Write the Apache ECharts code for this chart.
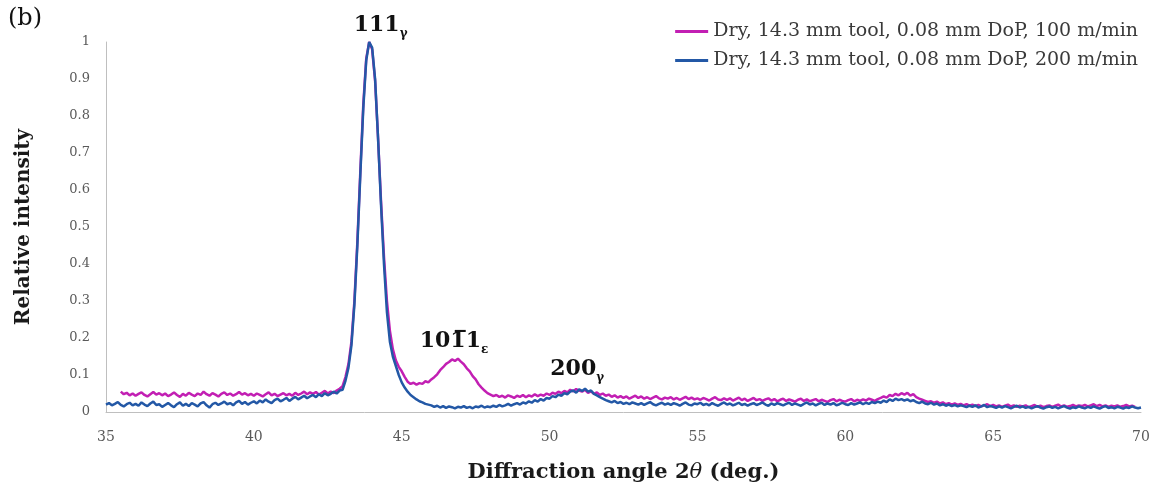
<!DOCTYPE html>
<html>
<head>
<meta charset="utf-8">
<style>
  html, body { margin: 0; padding: 0; background: #ffffff; }
  #chart { width: 1157px; height: 496px; }
</style>
<script src="https://cdn.jsdelivr.net/npm/echarts@6/dist/echarts.min.js"></script>
</head>
<body>
<div id="chart"></div>
<script>
// Scan grid: 2θ from 35° to 70° in 0.1° steps
const angleStart = 35.0;
const angleStep = 0.1;

// Tick labels
const xTicks = [35, 40, 45, 50, 55, 60, 65, 70];
const yTicks = [0, 0.1, 0.2, 0.3, 0.4, 0.5, 0.6, 0.7, 0.8, 0.9, 1];

const seriesNames = [
  'Dry, 14.3 mm tool, 0.08 mm DoP, 100 m/min',
  'Dry, 14.3 mm tool, 0.08 mm DoP, 200 m/min'
];

// Relative intensity, 100 m/min (one row per degree, 35.0 … 70.0)
const intensity100 = [
  null,null,null,null,null,0.055,0.048,0.052,0.045,0.050,
  0.044,0.049,0.053,0.046,0.042,0.048,0.054,0.047,0.051,0.045,
  0.050,0.043,0.047,0.053,0.046,0.041,0.049,0.044,0.052,0.047,
  0.043,0.050,0.046,0.055,0.048,0.044,0.051,0.047,0.042,0.049,
  0.053,0.046,0.050,0.044,0.048,0.054,0.047,0.051,0.045,0.049,
  0.044,0.050,0.046,0.042,0.048,0.053,0.045,0.049,0.043,0.047,
  0.051,0.045,0.049,0.044,0.052,0.046,0.050,0.055,0.048,0.053,
  0.049,0.054,0.047,0.052,0.057,0.050,0.055,0.051,0.058,0.063,
  0.070,0.095,0.130,0.190,0.300,0.460,0.650,0.830,0.955,1.000,
  0.980,0.895,0.740,0.570,0.420,0.300,0.220,0.170,0.140,0.122,
  0.110,0.095,0.082,0.076,0.079,0.074,0.078,0.076,0.083,0.080,
  0.088,0.094,0.102,0.113,0.121,0.130,0.135,0.142,0.138,0.144,
  0.136,0.129,0.118,0.110,0.097,0.088,0.075,0.066,0.058,0.051,
  0.047,0.043,0.046,0.041,0.044,0.039,0.045,0.042,0.038,0.044,
  0.041,0.046,0.040,0.045,0.042,0.048,0.043,0.047,0.044,0.050,
  0.046,0.052,0.049,0.055,0.051,0.057,0.053,0.060,0.056,0.062,
  0.058,0.055,0.060,0.052,0.056,0.049,0.053,0.046,0.050,0.044,
  0.047,0.041,0.045,0.039,0.043,0.038,0.042,0.036,0.040,0.044,
  0.038,0.042,0.036,0.040,0.035,0.039,0.043,0.037,0.034,0.039,
  0.036,0.040,0.034,0.038,0.033,0.037,0.041,0.035,0.039,0.034,
  0.037,0.033,0.038,0.035,0.031,0.036,0.040,0.034,0.032,0.037,
  0.033,0.037,0.031,0.035,0.039,0.032,0.036,0.030,0.034,0.038,
  0.032,0.035,0.030,0.034,0.037,0.031,0.035,0.029,0.033,0.036,
  0.030,0.034,0.031,0.028,0.033,0.036,0.030,0.034,0.029,0.032,
  0.035,0.029,0.033,0.030,0.027,0.032,0.035,0.029,0.033,0.030,
  0.028,0.032,0.035,0.029,0.033,0.030,0.034,0.031,0.036,0.033,
  0.030,0.035,0.038,0.042,0.039,0.046,0.043,0.049,0.045,0.051,
  0.047,0.052,0.044,0.048,0.040,0.036,0.033,0.030,0.027,0.029,
  0.025,0.028,0.023,0.026,0.021,0.024,0.020,0.023,0.019,0.022,
  0.018,0.021,0.017,0.020,0.016,0.019,0.015,0.018,0.021,0.016,
  0.019,0.015,0.018,0.014,0.017,0.020,0.015,0.018,0.014,0.017,
  0.015,0.018,0.013,0.016,0.019,0.014,0.017,0.013,0.016,0.018,
  0.014,0.017,0.020,0.015,0.018,0.014,0.016,0.019,0.015,0.018,
  0.016,0.019,0.015,0.018,0.021,0.016,0.019,0.015,0.018,0.014,
  0.017,0.015,0.018,0.014,0.016,0.019,0.015,0.017,0.014,null,
  null
];

// Relative intensity, 200 m/min (one row per degree, 35.0 … 70.0)
const intensity200 = [
  0.020,0.024,0.018,0.022,0.027,0.019,0.015,0.021,0.025,0.018,
  0.022,0.017,0.026,0.020,0.016,0.023,0.028,0.019,0.021,0.014,
  0.019,0.024,0.018,0.013,0.021,0.026,0.017,0.022,0.016,0.024,
  0.020,0.015,0.023,0.027,0.018,0.012,0.021,0.025,0.019,0.023,
  0.028,0.021,0.024,0.018,0.026,0.030,0.022,0.027,0.020,0.025,
  0.029,0.023,0.031,0.026,0.034,0.028,0.024,0.032,0.036,0.029,
  0.033,0.038,0.030,0.036,0.041,0.034,0.039,0.044,0.037,0.042,
  0.046,0.040,0.048,0.043,0.051,0.045,0.049,0.055,0.050,0.058,
  0.060,0.085,0.120,0.180,0.290,0.450,0.640,0.820,0.950,1.000,
  0.985,0.900,0.740,0.560,0.400,0.270,0.190,0.150,0.125,0.100,
  0.080,0.066,0.055,0.046,0.040,0.034,0.029,0.026,0.022,0.020,
  0.018,0.014,0.017,0.012,0.016,0.011,0.015,0.013,0.010,0.014,
  0.012,0.016,0.011,0.014,0.010,0.015,0.013,0.017,0.012,0.015,
  0.013,0.017,0.014,0.019,0.015,0.018,0.022,0.017,0.021,0.024,
  0.020,0.026,0.023,0.029,0.025,0.032,0.028,0.035,0.031,0.038,
  0.036,0.043,0.040,0.047,0.044,0.051,0.048,0.055,0.058,0.052,
  0.061,0.057,0.063,0.055,0.058,0.049,0.045,0.040,0.036,0.032,
  0.029,0.026,0.030,0.024,0.027,0.022,0.025,0.021,0.026,0.023,
  0.020,0.024,0.019,0.023,0.027,0.021,0.018,0.022,0.025,0.020,
  0.023,0.019,0.024,0.021,0.017,0.022,0.026,0.020,0.018,0.023,
  0.021,0.025,0.019,0.022,0.018,0.024,0.020,0.017,0.022,0.026,
  0.020,0.023,0.018,0.021,0.025,0.019,0.022,0.017,0.021,0.024,
  0.019,0.022,0.026,0.020,0.017,0.023,0.019,0.024,0.021,0.018,
  0.022,0.025,0.019,0.023,0.020,0.017,0.022,0.026,0.020,0.023,
  0.018,0.022,0.025,0.019,0.023,0.020,0.024,0.018,0.021,0.025,
  0.021,0.019,0.024,0.020,0.023,0.026,0.021,0.025,0.022,0.027,
  0.024,0.028,0.025,0.031,0.027,0.034,0.030,0.036,0.032,0.035,
  0.031,0.034,0.029,0.032,0.027,0.024,0.028,0.023,0.021,0.025,
  0.020,0.023,0.018,0.021,0.017,0.020,0.016,0.019,0.015,0.018,
  0.016,0.013,0.017,0.014,0.018,0.012,0.015,0.019,0.013,0.016,
  0.014,0.011,0.015,0.012,0.016,0.013,0.010,0.014,0.017,0.012,
  0.015,0.011,0.014,0.010,0.013,0.016,0.012,0.009,0.013,0.015,
  0.011,0.014,0.010,0.013,0.016,0.012,0.009,0.013,0.011,0.015,
  0.012,0.010,0.014,0.011,0.015,0.012,0.009,0.013,0.016,0.011,
  0.013,0.010,0.014,0.012,0.009,0.013,0.011,0.015,0.012,0.010,
  0.012
];

// Reflection labels: position of each peak and its indexed name
const peakAngles = [43.95, 46.7, 50.8];
const peakHeights = [1.0, 0.14, 0.065];
const peakIndex = ['111', '10\u0031\u03051', '200'];
const peakPhase = ['\u03b3', '\u03b5', '\u03b3'];
const peakShift = [[10, 2], [2, 0], [4, 0]];

const colors = ['#c21fb3', '#2358a6'];
const serif = '"DejaVu Serif", "Liberation Serif", serif';

function toPoints(values) {
  const pts = [];
  values.forEach(function (v, i) {
    if (v !== null) pts.push([+(angleStart + i * angleStep).toFixed(1), v]);
  });
  return pts;
}

const chart = echarts.init(document.getElementById('chart'), null, { renderer: 'canvas' });

const peakLabels = peakAngles.map(function (a, i) {
  return {
    coord: [a, peakHeights[i]],
    value: peakIndex[i] + '|' + peakPhase[i],
    label: { offset: peakShift[i] }
  };
});

chart.setOption({
  animation: false,
  backgroundColor: '#ffffff',
  color: colors,
  grid: { left: 106, right: 16, top: 42, bottom: 84, containLabel: false },
  legend: {
    orient: 'vertical',
    right: 14,
    top: 17,
    itemGap: 10,
    itemWidth: 33,
    itemHeight: 3,
    icon: 'rect',
    data: seriesNames,
    textStyle: { fontFamily: serif, fontSize: 19, color: '#3a3a3a' }
  },
  xAxis: {
    type: 'value',
    min: xTicks[0],
    max: xTicks[xTicks.length - 1],
    interval: 5,
    name: '{b|Diffraction angle 2}{i|\u03b8}{b| (deg.)}',
    nameLocation: 'middle',
    nameGap: 50,
    nameTextStyle: {
      rich: {
        b: { fontFamily: serif, fontWeight: 'bold', fontSize: 21, color: '#1a1a1a' },
        i: { fontFamily: serif, fontStyle: 'italic', fontSize: 21, color: '#1a1a1a' }
      }
    },
    axisLine: { lineStyle: { color: '#bfbfbf', width: 1 } },
    axisTick: { show: false },
    splitLine: { show: false },
    axisLabel: { margin: 18, fontFamily: serif, fontSize: 14, color: '#5a5a5a' }
  },
  yAxis: {
    type: 'value',
    min: yTicks[0],
    max: yTicks[yTicks.length - 1],
    interval: 0.1,
    name: 'Relative intensity',
    nameLocation: 'middle',
    nameGap: 72,
    nameTextStyle: { fontFamily: serif, fontWeight: 'bold', fontSize: 20, color: '#1a1a1a' },
    axisLine: { show: true, lineStyle: { color: '#bfbfbf', width: 1 } },
    axisTick: { show: false },
    splitLine: { show: false },
    axisLabel: { margin: 16, fontFamily: serif, fontSize: 13, color: '#5a5a5a' }
  },
  graphic: [
    {
      type: 'text',
      left: 8,
      top: 7,
      style: { text: '(b)', font: '24px ' + serif, fill: '#111111' }
    }
  ],
  series: [
    {
      name: seriesNames[0],
      type: 'line',
      data: toPoints(intensity100),
      showSymbol: false,
      smooth: false,
      lineStyle: { width: 2.5, color: colors[0] },
      z: 2
    },
    {
      name: seriesNames[1],
      type: 'line',
      data: toPoints(intensity200),
      showSymbol: false,
      smooth: false,
      lineStyle: { width: 2.5, color: colors[1] },
      z: 3,
      markPoint: {
        symbol: 'circle',
        symbolSize: 0,
        silent: true,
        data: peakLabels,
        label: {
          show: true,
          position: 'top',
          distance: 4,
          formatter: function (p) {
            const parts = p.value.split('|');
            return '{m|' + parts[0] + '}{s|' + parts[1] + '}';
          },
          rich: {
            m: { fontFamily: serif, fontWeight: 'bold', fontSize: 22, color: '#111111', verticalAlign: 'bottom', padding: [0, 0, 4, 0] },
            s: { fontFamily: serif, fontWeight: 'bold', fontSize: 12, color: '#111111', verticalAlign: 'bottom' }
          }
        }
      }
    }
  ]
});
</script>
</body>
</html>
